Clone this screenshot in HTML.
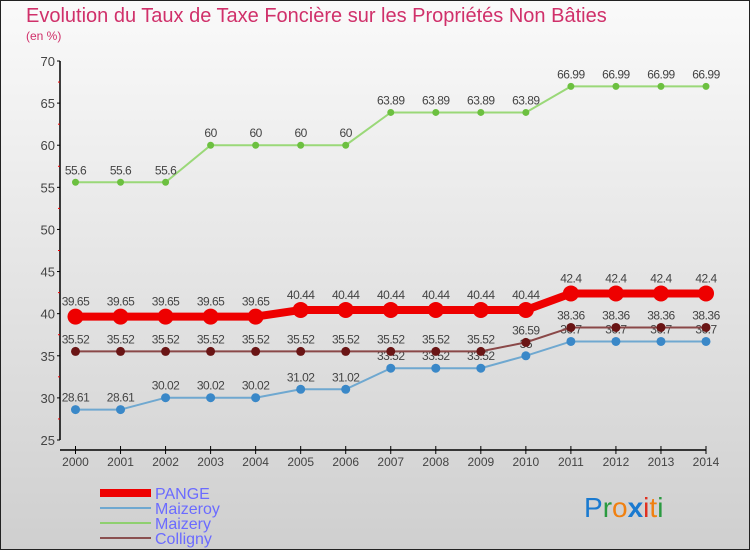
<!DOCTYPE html>
<html><head><meta charset="utf-8"><style>
body{margin:0;width:750px;height:550px;overflow:hidden}
svg{display:block;font-family:"Liberation Sans","DejaVu Sans",sans-serif}
</style></head><body>
<svg width="750" height="550">
<defs><linearGradient id="bg" x1="0" y1="0" x2="0" y2="1"><stop offset="0" stop-color="#fafafa"/><stop offset="1" stop-color="#cfcfcf"/></linearGradient></defs>
<rect x="0.5" y="0.5" width="749" height="549" fill="url(#bg)" stroke="#222"/>
<text x="26" y="22" font-size="20" fill="#d0306a">Evolution du Taux de Taxe Foncière sur les Propriétés Non Bâties</text>
<text x="26" y="40" font-size="12" fill="#d0306a">(en %)</text>
<g id="axes"></g><g id="series"></g>
<g font-size="16" fill="#6b6bff">
<line x1="100" y1="493" x2="151" y2="493" stroke="#e00" stroke-width="8"/><text x="155" y="499">PANGE</text>
<line x1="100" y1="508" x2="151" y2="508" stroke="#6fa8d0" stroke-width="2"/><text x="155" y="514">Maizeroy</text>
<line x1="100" y1="523" x2="151" y2="523" stroke="#8fd070" stroke-width="2"/><text x="155" y="529">Maizery</text>
<line x1="100" y1="538" x2="151" y2="538" stroke="#8a5050" stroke-width="2"/><text x="155" y="544">Colligny</text>
</g>
<g font-size="28" font-family="'Liberation Sans',sans-serif">
<text x="584" y="517"><tspan fill="#1a7ad0">P</tspan><tspan fill="#2a9a40">r</tspan><tspan fill="#f08010">o</tspan><tspan fill="#1a7ad0" font-weight="bold">x</tspan><tspan fill="#e03020">i</tspan><tspan fill="#f08010">t</tspan><tspan fill="#2a9a40">i</tspan></text>
</g>
</svg>
<script>
const years=[2000,2001,2002,2003,2004,2005,2006,2007,2008,2009,2010,2011,2012,2013,2014];
const pange=[39.65,39.65,39.65,39.65,39.65,40.44,40.44,40.44,40.44,40.44,40.44,42.4,42.4,42.4,42.4];
const maizeroy=[28.61,28.61,30.02,30.02,30.02,31.02,31.02,33.52,33.52,33.52,35,36.7,36.7,36.7,36.7];
const maizery=[55.6,55.6,55.6,60,60,60,60,63.89,63.89,63.89,63.89,66.99,66.99,66.99,66.99];
const colligny=[35.52,35.52,35.52,35.52,35.52,35.52,35.52,35.52,35.52,35.52,36.59,38.36,38.36,38.36,38.36];
const yTicks=[25,30,35,40,45,50,55,60,65,70];
const NS="http://www.w3.org/2000/svg";
const X=i=>75.5+i*(706-75.5)/(years.length-1);
const Y=v=>440-(v-25)*(440-61)/45;
function mk(p,t,a){const e=document.createElementNS(NS,t);for(const k in a)e.setAttribute(k,a[k]);p.appendChild(e);return e;}
const ax=document.getElementById('axes');
const yl=mk(ax,'line',{x1:60,y1:61,x2:60,y2:440,stroke:'#000','stroke-width':1.5});


yTicks.forEach(v=>{
 mk(ax,'line',{x1:57,y1:Y(v),x2:60,y2:Y(v),stroke:'#000'});
 if(v<70) mk(ax,'line',{x1:58,y1:Y(v+2.5),x2:60,y2:Y(v+2.5),stroke:'#e00'});
 const t=mk(ax,'text',{x:55,y:Y(v)+5,'text-anchor':'end','font-size':13,fill:'#444'});t.textContent=v;
 
 
});
const xl=mk(ax,'line',{x1:60,y1:450,x2:706,y2:450,stroke:'#000','stroke-width':1.5});


years.forEach((y,i)=>{
 mk(ax,'line',{x1:X(i),y1:446,x2:X(i),y2:454,stroke:'#000'});
 const t=mk(ax,'text',{x:X(i),y:466,'text-anchor':'middle','font-size':12,fill:'#444'});t.textContent=y;
 
 
});
const sg=document.getElementById('series');
function series(name,data,color,lw,r,dot){
 const g=mk(sg,'g',{});
 
 
 mk(g,'polyline',{points:data.map((v,i)=>X(i)+','+Y(v)).join(' '),fill:'none',stroke:color,'stroke-width':lw});
 data.forEach((v,i)=>{
  const c=mk(g,'circle',{cx:X(i),cy:Y(v),r:r,fill:dot});
  
  
  const t=mk(g,'text',{x:X(i),y:Y(v)-8-(r>5?3:0),'text-anchor':'middle','font-size':12,fill:'#444','letter-spacing':'-0.5'});
  t.textContent=v;
  
  
 });
}
series('maizery',maizery,'#9ad878',2,3.5,'#6cc040');
series('maizeroy',maizeroy,'#6fa8d0',2,4.5,'#3a88c8');
series('colligny',colligny,'#8a4848',2,4.5,'#6a1515');
series('pange',pange,'#ee0000',8,8,'#ee0000');
</script>
</body></html>
